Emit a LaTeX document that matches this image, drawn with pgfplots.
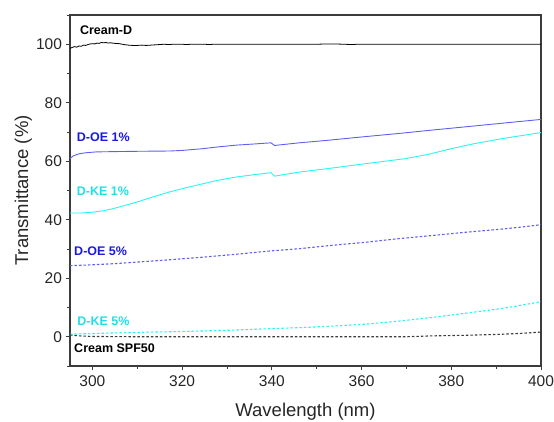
\documentclass[border=0pt]{standalone}
\usepackage{pgfplots}
\pgfplotsset{compat=1.18}
\usepackage{fontspec}
\setmainfont{Liberation Sans}
\definecolor{oeline}{RGB}{95,95,240}
\definecolor{oetext}{RGB}{25,25,225}
\definecolor{keline}{RGB}{40,245,245}
\definecolor{ketext}{RGB}{30,225,230}
\definecolor{framec}{RGB}{60,60,60}
\definecolor{spf}{RGB}{60,60,60}
\begin{document}
\begin{tikzpicture}
\useasboundingbox (-70pt,-55pt) rectangle (484pt,366pt);
\begin{axis}[
  at={(0,0)}, anchor=south west,
  scale only axis, width=471pt, height=351pt,
  xmin=295, xmax=400, ymin=-10, ymax=110,
  xtick={300,320,...,400}, ytick={0,20,...,100},
  minor xtick={310,330,...,390}, minor ytick={-10,10,30,...,110},
  xtick pos=bottom, ytick pos=left,
  tick align=outside,
  major tick length=4pt, minor tick length=3pt,
  every tick/.style={framec, line width=0.9pt},
  axis line style={framec, line width=1.2pt},
  /pgf/number format/assume math mode=true,
  ticklabel style={font=\fontsize{15.5}{17}\selectfont, text=black!85},
  yticklabel style={xshift=-0.5pt},
  xticklabel style={yshift=-2pt},
  label style={font=\fontsize{18.5}{21}\selectfont, text=black!85},
  xlabel={Wavelength (nm)}, ylabel={Transmittance (\%)},
  xlabel style={at={(axis description cs:0.5,-0.130)}, anchor=center},
  ylabel style={at={(axis description cs:-0.0992,0.5)}, anchor=center},
  clip=true,
]
% Cream-D
\addplot[black, line width=0.8pt] coordinates {
(295,98.6) (295.5,98.9) (296,99.2) (296.5,99.0) (297,99.4) (297.5,99.3) (298,99.7) (298.5,99.6) (299,99.9)
(299.5,100.1) (300,100.2) (300.5,100.1) (301,100.4) (301.5,100.3) (302,100.6) (302.5,100.5) (303,100.6)
(303.5,100.4) (304,100.5) (305,100.3) (306,100.2) (307,99.9) (308,99.7) (309,99.6) (310,99.6) (311,99.7)
(312,99.6) (313,99.7) (314,99.8) (315,99.9) (316,100.0) (317,99.9) (318,100.0) (320,100.0) (321,99.9) (322,100.0)
(325,100.0) (326,99.9) (327,100.0) (330,100.0) (340,100.0) (350,100.0) (352,100.1) (354,100.1) (356,100.0)
(358,99.9) (359,100.0) (360,100.0) (370,100.0) (380,100.0) (390,100.0) (400,100.0)
};
% D-OE 1%
\addplot[oeline, line width=0.9pt] coordinates {
(295,60.9) (295.7,61.8) (296.5,62.3) (297.2,62.6) (298.5,62.9) (300.9,63.2) (305,63.3) (309.8,63.4)
(317.2,63.5) (320,63.7) (324.6,64.3) (328,64.9) (332,65.5) (336,65.9) (339.8,66.3) (340.6,65.4)
(346.1,66.3) (352,67.1) (360,68.3) (368.3,69.5) (376,70.7) (384,71.9) (392,73.1) (400,74.3)
};
% D-KE 1%
\addplot[keline, line width=0.9pt] coordinates {
(295,42.3) (297.5,42.3) (300.2,42.6) (302.5,43.1) (304.6,43.8) (307,44.8) (309.8,46.0) (313.5,47.8)
(317.2,49.5) (321,51.0) (324.6,52.3) (328,53.5) (332,54.6) (336,55.4) (339.8,56.1) (340.6,54.9)
(346.1,56.3) (352,57.4) (360,59.0) (369.8,60.9) (375,62.4) (380,64.3) (385.4,66.1) (392,67.9) (400,69.8)
};
% D-OE 5%
\addplot[oeline, line width=1.1pt, dash pattern=on 2.5pt off 2pt] coordinates {
(295,24.3) (300,24.6) (305,25.0) (309.8,25.5) (317,26.3) (324.6,27.2) (332,28.2) (339.4,29.3)
(346.1,30.1) (353,31.2) (360.9,32.3) (368,33.5) (375.7,34.6) (383,35.7) (390.5,36.7) (395,37.4) (400,38.3)
};
% D-KE 5%
\addplot[keline, line width=1.1pt, dash pattern=on 2.5pt off 2pt] coordinates {
(295,0.9) (300,1.1) (305,1.3) (310,1.5) (317.2,1.7) (325,2.0) (332,2.3) (340,2.8) (346.1,3.1)
(353,3.6) (360.9,4.3) (368,5.3) (375.7,6.6) (383,8.0) (390.5,9.5) (395,10.6) (400,12.0)
};
% Cream SPF50
\addplot[spf, line width=1.1pt, dash pattern=on 2.5pt off 2pt] coordinates {
(295,0.6) (297,0.3) (300,0.1) (310,0.0) (320,0.0) (340,0.0) (360,0.0) (370,0.0) (375.7,0.3)
(383,0.5) (390.5,0.8) (396,1.2) (400,1.6)
};
\node[anchor=west, inner sep=0pt, font=\fontsize{12.5}{14}\selectfont\bfseries, text=black] at (axis cs:297.2,104.9) {Cream-D};
\node[anchor=west, inner sep=0pt, font=\fontsize{12.5}{14}\selectfont\bfseries, text=oetext] at (axis cs:296.5,68.2) {D-OE 1\%};
\node[anchor=west, inner sep=0pt, font=\fontsize{12.5}{14}\selectfont\bfseries, text=ketext] at (axis cs:296.5,49.6) {D-KE 1\%};
\node[anchor=west, inner sep=0pt, font=\fontsize{12.5}{14}\selectfont\bfseries, text=oetext] at (axis cs:295.9,29.3) {D-OE 5\%};
\node[anchor=west, inner sep=0pt, font=\fontsize{12.5}{14}\selectfont\bfseries, text=ketext] at (axis cs:296.6,5.3) {D-KE 5\%};
\node[anchor=west, inner sep=0pt, font=\fontsize{12.5}{14}\selectfont\bfseries, text=black] at (axis cs:295.9,-3.9) {Cream SPF50};
\end{axis}
\end{tikzpicture}
\end{document}
